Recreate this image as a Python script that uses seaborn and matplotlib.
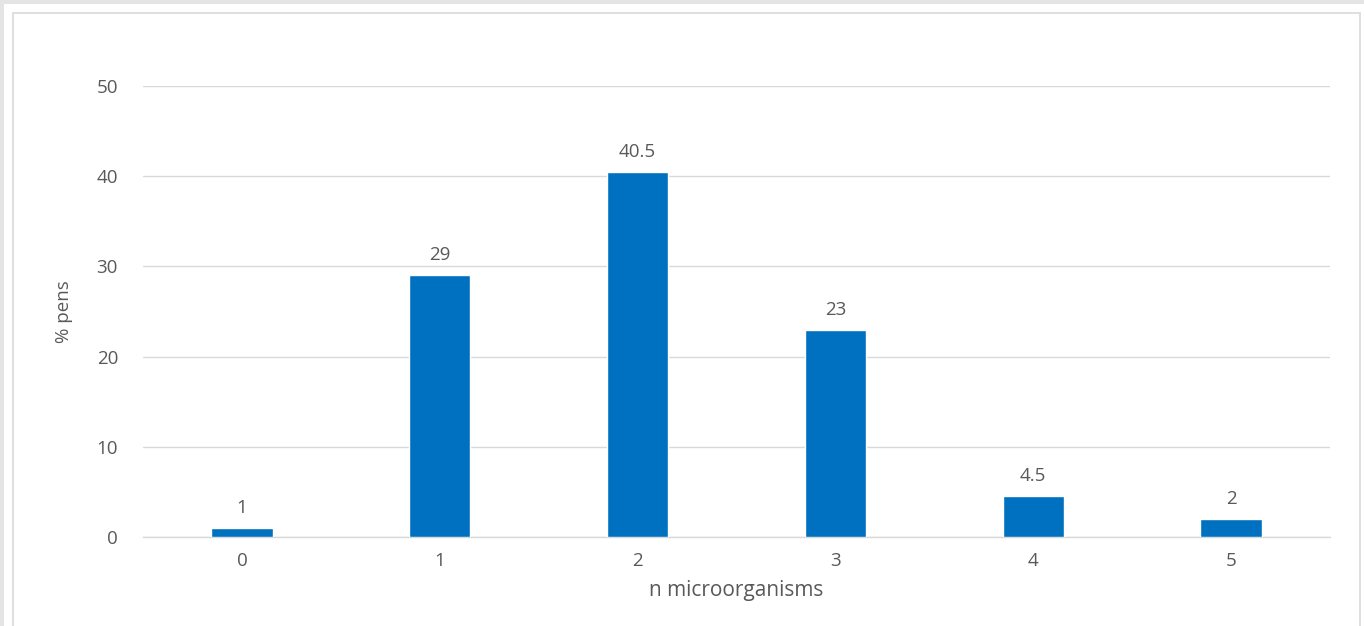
import matplotlib
matplotlib.use("Agg")
import matplotlib.pyplot as plt
from matplotlib.patches import Rectangle
import seaborn as sns
import pandas as pd

# =============================
# Data
# =============================
n_micro = ["0", "1", "2", "3", "4", "5"]
pct_pens = [1, 29, 40.5, 23, 4.5, 2]
y_ticks = [0, 10, 20, 30, 40, 50]

df = pd.DataFrame({"n": n_micro, "pct": pct_pens})

# =============================
# Style
# =============================
sns.set_style("white")
plt.rcParams["font.family"] = ["Open Sans", "DejaVu Sans"]
TEXT = "#595959"
GRID = "#d9d9d9"
BAR = "#0070C0"
FS = 13.5

W, H = 1364, 626
fig = plt.figure(figsize=(W / 100, H / 100), dpi=100, facecolor="#e4e4e4")

# white card + thin chart border
fig.patches.append(Rectangle((4 / W, 0), 1, 1 - 4 / H,
                             transform=fig.transFigure, facecolor="white",
                             edgecolor="none", zorder=-2))
fig.patches.append(Rectangle((12.5 / W, -0.01), (1360 - 12.5) / W, 1 - 12.5 / H + 0.01,
                             transform=fig.transFigure, facecolor="none",
                             edgecolor="#d9d9d9", linewidth=1.2, zorder=-1))

ax = fig.add_axes([143 / W, 1 - 537 / H, (1330 - 143) / W, (537 - 86) / H])
ax.set_facecolor("none")

sns.barplot(data=df, x="n", y="pct", color=BAR, width=0.31, ax=ax,
            saturation=1, zorder=3)

ax.set_xlim(-0.5, 5.5)
ax.set_ylim(0, 50)
ax.set_yticks(y_ticks)
ax.yaxis.grid(True, color=GRID, linewidth=1, zorder=0)
ax.set_axisbelow(True)
for s in ["top", "right", "left"]:
    ax.spines[s].set_visible(False)
ax.spines["bottom"].set_color(GRID)
ax.spines["bottom"].set_linewidth(1)
ax.tick_params(axis="both", length=0, labelsize=FS, labelcolor=TEXT)
ax.tick_params(axis="y", pad=18)
ax.tick_params(axis="x", pad=11)

for i, v in enumerate(pct_pens):
    label = f"{v:g}"
    ax.annotate(label, (i, v), xytext=(0, 11), textcoords="offset pixels",
                ha="center", va="bottom", fontsize=FS, color=TEXT)

ax.set_xlabel("n microorganisms", fontsize=15, color=TEXT, labelpad=7)
ax.set_ylabel("% pens", fontsize=FS, color=TEXT, labelpad=17)

plt.savefig("out.png", dpi=100, facecolor=fig.get_facecolor())
